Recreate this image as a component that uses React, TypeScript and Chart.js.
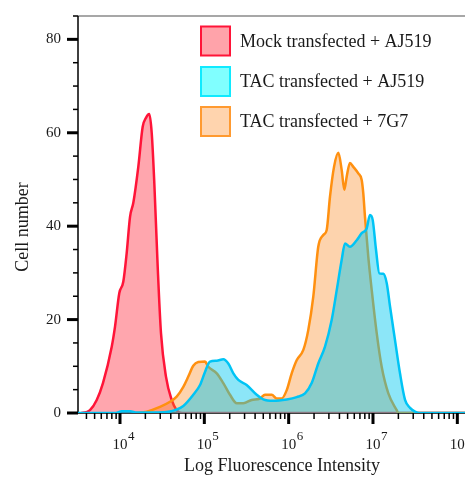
import React, { useEffect, useRef } from "react";
import { Chart, registerables } from "chart.js";

Chart.register(...registerables);

// ---- Data (x values are log10 of fluorescence intensity) ----
const X_MIN = 3.502;
const X_MAX = 8.091;
const Y_MAX = 85;

const X_MAJOR_TICKS = [4, 5, 6, 7, 8];
const Y_MAJOR_TICKS = [0, 20, 40, 60, 80];
const Y_MINOR_STEP = 5;

const SERIES_LABELS = ["Mock transfected + AJ519", "TAC transfected + AJ519", "TAC transfected + 7G7"];

const mockX = [3.54, 3.6, 3.644, 3.724, 3.798, 3.902, 3.941, 3.992, 4.039, 4.079, 4.119, 4.158, 4.217, 4.269, 4.308, 4.347, 4.376, 4.407, 4.447, 4.486, 4.545, 4.613, 4.672, 4.735, 8.091];
const mockY = [0, 0.2, 0.6, 2.8, 6.4, 14.2, 18.5, 25.7, 28.1, 34.2, 42, 45, 52.7, 61.3, 63.2, 64, 60, 49.2, 31.3, 17.1, 7.8, 2.8, 0.6, 0, 0];

const tacX = [3.502, 3.95, 4.02, 4.12, 4.2, 4.45, 4.593, 4.652, 4.751, 4.869, 4.949, 5.008, 5.067, 5.147, 5.225, 5.284, 5.344, 5.403, 5.502, 5.621, 5.699, 5.818, 5.977, 6.095, 6.194, 6.273, 6.351, 6.431, 6.51, 6.57, 6.629, 6.668, 6.727, 6.807, 6.866, 6.925, 6.964, 6.997, 7.036, 7.075, 7.122, 7.163, 7.202, 7.261, 7.32, 7.38, 7.439, 7.498, 7.557, 8.091];
const tacY = [0, 0, 0.4, 0.4, 0.1, 0.1, 0.3, 0.6, 1.5, 3.9, 6.0, 8.8, 11, 11.2, 11.5, 10.6, 8.5, 7.1, 6.0, 3.9, 2.9, 2.6, 2.9, 3.4, 4.2, 6.4, 10.6, 14.2, 19.9, 26.3, 32.8, 36.3, 35.6, 37, 38.5, 39.5, 42.4, 41.3, 34.9, 29.9, 29.8, 27.8, 22.8, 15.6, 8.5, 2.8, 1.1, 0.3, 0, 0];

const g7X = [4.19, 4.317, 4.474, 4.593, 4.672, 4.751, 4.81, 4.869, 4.928, 5.008, 5.047, 5.147, 5.225, 5.304, 5.384, 5.462, 5.562, 5.66, 5.719, 5.799, 5.858, 5.917, 5.977, 6.036, 6.095, 6.174, 6.233, 6.292, 6.351, 6.411, 6.451, 6.49, 6.538, 6.589, 6.629, 6.66, 6.688, 6.727, 6.767, 6.826, 6.866, 6.885, 6.905, 6.944, 6.985, 7.044, 7.103, 7.182, 7.281, 7.3, 8.091];
const g7Y = [0, 0.3, 1.3, 2.4, 3.5, 5.6, 7.8, 10.1, 10.9, 11, 9.9, 8.5, 6.4, 3.9, 2.1, 2.1, 2.8, 3.1, 3.9, 3.9, 3.1, 3.1, 4.9, 8.5, 11.3, 13.5, 17.8, 24.9, 35.6, 38.1, 39.2, 46.3, 52.7, 55.7, 52, 47.8, 50.6, 53.5, 52.7, 51.3, 49.9, 47, 42, 33.5, 26.3, 17.1, 9.9, 4.2, 0.6, 0, 0];

const toPoints = (xs: number[], ys: number[]) => xs.map((x, i) => ({ x, y: ys[i] }));

// ---- Styles ----
const LINE_COLORS = ["#ff1438", "#00c4f5", "#ff9010"];
const FILL_COLORS = ["rgba(255,0,24,0.35)", "rgba(0,200,240,0.45)", "rgba(250,130,20,0.35)"];
const LEGEND_FILLS = ["#ffa3aa", "#80ffff", "#ffd4ae"];
const LEGEND_BORDERS = ["#ff1438", "#10eaff", "#ff9a30"];
const SERIF = '"Liberation Serif", "Times New Roman", serif';

const axesPlugin = {
  id: "customAxes",
  beforeDatasetsDraw(chart: any) {
    const { ctx, chartArea } = chart;
    const { left, right, top, bottom } = chartArea;
    ctx.save();
    ctx.strokeStyle = "#8a8a8a";
    ctx.lineWidth = 1.5;
    ctx.beginPath();
    ctx.moveTo(left, top);
    ctx.lineTo(right, top);
    ctx.stroke();
    ctx.strokeStyle = "#000";
    ctx.lineWidth = 1.5;
    ctx.beginPath();
    ctx.moveTo(left, top);
    ctx.lineTo(left, bottom);
    ctx.moveTo(left, bottom);
    ctx.lineTo(right, bottom);
    ctx.stroke();
    ctx.restore();
  },
  afterDraw(chart: any) {
    const { ctx, chartArea, scales } = chart;
    const { left, bottom } = chartArea;
    const xs = scales.x;
    const ys = scales.y;
    ctx.save();
    ctx.strokeStyle = "#000";
    // y ticks
    for (let v = 0; v <= Y_MAX; v += Y_MINOR_STEP) {
      const y = ys.getPixelForValue(v);
      const major = Y_MAJOR_TICKS.includes(v);
      ctx.lineWidth = major ? 3 : 1.5;
      ctx.beginPath();
      ctx.moveTo(left - (major ? 11 : 5), y);
      ctx.lineTo(left, y);
      ctx.stroke();
    }
    // x ticks
    for (let n = 3; n <= 8; n++) {
      for (let k = 1; k <= 9; k++) {
        const v = n + Math.log10(k);
        if (v < X_MIN || v > X_MAX + 0.01) continue;
        const x = xs.getPixelForValue(v);
        const major = k === 1;
        ctx.lineWidth = major ? 3 : 1.5;
        ctx.beginPath();
        ctx.moveTo(x, bottom);
        ctx.lineTo(x, bottom + (major ? 11 : 6));
        ctx.stroke();
      }
    }
    // y tick labels
    ctx.fillStyle = "#1a1a1a";
    ctx.font = `15px ${SERIF}`;
    ctx.textAlign = "right";
    ctx.textBaseline = "middle";
    Y_MAJOR_TICKS.forEach((v) => {
      ctx.fillText(String(v), 61, ys.getPixelForValue(v));
    });
    // x tick labels 10^n
    ctx.textBaseline = "alphabetic";
    X_MAJOR_TICKS.forEach((n) => {
      const x = xs.getPixelForValue(n);
      ctx.font = `15px ${SERIF}`;
      ctx.textAlign = "center";
      const w = ctx.measureText("10").width;
      ctx.fillText("10", x, 449);
      ctx.font = `13px ${SERIF}`;
      ctx.textAlign = "left";
      ctx.fillText(String(n), x + w / 2 + 0.5, 440);
    });
    // axis titles
    ctx.font = `18px ${SERIF}`;
    ctx.textAlign = "center";
    ctx.fillText("Log Fluorescence Intensity", 282, 471);
    ctx.save();
    ctx.translate(28, 227);
    ctx.rotate(-Math.PI / 2);
    ctx.textBaseline = "alphabetic";
    ctx.fillText("Cell number", 0, 0);
    ctx.restore();
    // legend
    const rowsY = [41, 81.5, 121.5];
    SERIES_LABELS.forEach((label, i) => {
      const cy = rowsY[i];
      ctx.fillStyle = LEGEND_FILLS[i];
      ctx.fillRect(201, cy - 14.5, 29, 29);
      ctx.strokeStyle = LEGEND_BORDERS[i];
      ctx.lineWidth = 2;
      ctx.strokeRect(201, cy - 14.5, 29, 29);
      ctx.fillStyle = "#1a1a1a";
      ctx.font = `18px ${SERIF}`;
      ctx.textAlign = "left";
      ctx.textBaseline = "middle";
      ctx.fillText(label, 240, cy + 1);
    });
    ctx.restore();
  },
};

export default function App() {
  const canvasRef = useRef<HTMLCanvasElement | null>(null);

  useEffect(() => {
    const canvas = canvasRef.current;
    if (!canvas) return;
    const seriesX = [mockX, tacX, g7X];
    const seriesY = [mockY, tacY, g7Y];
    const drawOrder = [2, 0, 1];
    const chart = new Chart(canvas, {
      type: "line",
      data: {
        datasets: SERIES_LABELS.map((label, i) => ({
          label,
          data: toPoints(seriesX[i], seriesY[i]),
          borderColor: LINE_COLORS[i],
          backgroundColor: FILL_COLORS[i],
          borderWidth: 2.5,
          fill: "origin",
          pointRadius: 0,
          cubicInterpolationMode: "monotone" as const,
          order: drawOrder[i],
        })),
      },
      options: {
        responsive: false,
        animation: false,
        devicePixelRatio: 1,
        layout: { padding: { left: 78, top: 16, right: 0, bottom: 64 } },
        plugins: { legend: { display: false }, tooltip: { enabled: false } },
        scales: {
          x: { type: "linear", min: X_MIN, max: X_MAX, display: false },
          y: { type: "linear", min: 0, max: Y_MAX, display: false },
        },
      },
      plugins: [axesPlugin],
    });
    return () => chart.destroy();
  }, []);

  return (
    <div style={{ position: "fixed", left: 0, top: 0, width: 465, height: 477, overflow: "hidden", background: "#fff" }}>
      <canvas ref={canvasRef} width={465} height={477} style={{ width: 465, height: 477, display: "block" }} />
    </div>
  );
}
